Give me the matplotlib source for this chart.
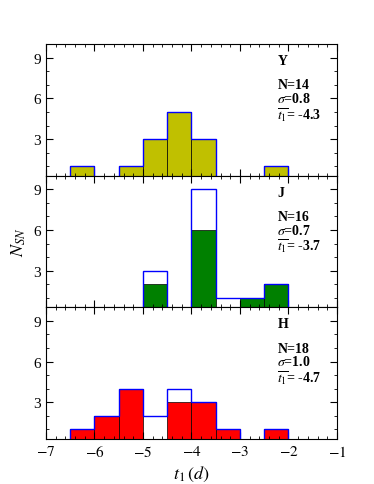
import numpy as np
import matplotlib.pyplot as plt
from matplotlib.ticker import MultipleLocator

plt.rcParams['font.family'] = ['Liberation Serif', 'DejaVu Serif']
plt.rcParams['mathtext.fontset'] = 'stix'

# bin edges of the histograms (width 0.5 d)
edges = np.arange(-6.5, -1.99, 0.5)
centers = edges[:-1] + 0.25

bands = ["Y", "J", "H"]
colors = ["#c0c000", "green", "red"]
# counts per bin, bins from -6.5 to -2.0
all_counts = {
    "Y": [1, 0, 1, 3, 5, 3, 0, 0, 1],
    "J": [0, 0, 0, 3, 0, 9, 1, 1, 2],
    "H": [1, 2, 4, 2, 4, 3, 1, 0, 1],
}
sel_counts = {
    "Y": [1, 0, 1, 3, 5, 3, 0, 0, 1],
    "J": [0, 0, 0, 2, 0, 6, 0, 1, 2],
    "H": [1, 2, 4, 0, 3, 3, 1, 0, 1],
}
n_sn = [14, 16, 18]
sigma = ["0.8", "0.7", "1.0"]
mean_t1 = ["-4.3", "-3.7", "-4.7"]

fig, axes = plt.subplots(3, 1, figsize=(3.74, 4.85), sharex=True)
fig.subplots_adjust(left=0.123, right=0.901, top=0.907, bottom=0.093, hspace=0)

for i, ax in enumerate(axes):
    b = bands[i]
    ax.hist(centers, bins=edges, weights=sel_counts[b], color=colors[i],
            edgecolor="black", linewidth=0.5)
    ax.hist(centers, bins=edges, weights=all_counts[b], histtype="step",
            color="blue", linewidth=1.0)
    ax.set_xlim(-7, -1)
    ax.set_ylim(0.3, 10)
    ax.set_yticks([3, 6, 9])
    ax.xaxis.set_minor_locator(MultipleLocator(0.2))
    ax.yaxis.set_minor_locator(MultipleLocator(1))
    ax.tick_params(which="both", direction="in", top=True, right=True, labelsize=11)
    ax.tick_params(which="major", length=5)
    ax.tick_params(which="minor", length=2.5)
    ax.text(0.795, 0.875, b, transform=ax.transAxes, fontsize=10, fontweight="bold",
            va="center")
    ax.text(0.795, 0.69, "N=%d" % n_sn[i], transform=ax.transAxes, fontsize=10,
            fontweight="bold", va="center")
    ax.text(0.795, 0.59, r"$\sigma$=" + sigma[i], transform=ax.transAxes, fontsize=10,
            fontweight="bold", va="center")
    ax.text(0.795, 0.465, r"$\overline{t_1}$= " + mean_t1[i], transform=ax.transAxes,
            fontsize=10, fontweight="bold", va="center")

axes[1].set_ylabel(r"$N_{SN}$", fontsize=13)
axes[2].set_xlabel(r"$t_1\,(d)$", fontsize=13)
axes[2].set_xticks([-7, -6, -5, -4, -3, -2, -1])
axes[2].set_xticklabels([r"$-7$", r"$-6$", r"$-5$", r"$-4$", r"$-3$", r"$-2$", r"$-1$"])

fig.savefig("out.png", dpi=100)
